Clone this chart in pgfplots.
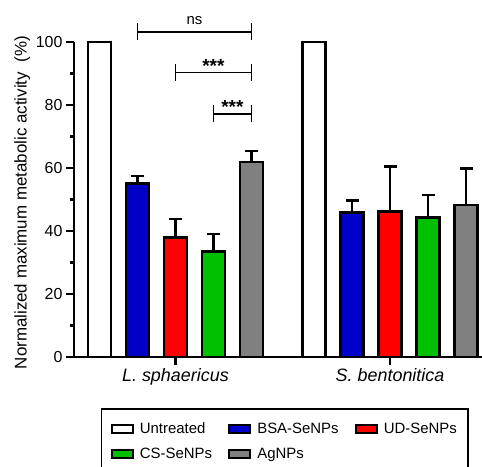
\documentclass[border=0pt]{standalone}
\usepackage{pgfplots}
\pgfplotsset{compat=1.18}
\usepackage{fontspec}
\setmainfont{Liberation Sans}
\definecolor{cblue}{RGB}{0,0,200}
\definecolor{cred}{RGB}{255,0,0}
\definecolor{cgreen}{RGB}{0,192,0}
\definecolor{cgray}{RGB}{128,128,128}
\pgfplotsset{
  mybar/.style={ybar, bar width=23bp, bar shift=0pt, draw=black, line width=2.6bp, fill=#1,
    error bars/.cd, y dir=plus, y explicit,
    error bar style={line width=2.6bp, black},
    error mark options={rotate=90, mark size=6.5bp, line width=2.6bp, black}},
}
\begin{document}
\begin{tikzpicture}
\begin{axis}[
  scale only axis, width=408bp, height=315bp,
  xmin=-0.67, xmax=10.07, ymin=0, ymax=100,
  axis x line*=bottom, axis y line*=left,
  axis line style={line width=2.4bp},
  every tick/.style={black, line width=2.2bp},
  tick align=outside,
  major tick length=8bp, minor tick length=4bp,
  ytick={0,20,...,100}, minor ytick={10,30,50,70,90},
  xtick={2,7.65}, xticklabels={\textit{L. sphaericus}, \textit{S. bentonitica}},
  xticklabel style={font=\fontsize{18}{21}\selectfont},
  yticklabel style={font=\fontsize{16}{19}\selectfont},
  /pgf/number format/assume math mode=true,
  ylabel={Normalized maximum metabolic activity\ \ (\%)},
  ylabel style={font=\fontsize{17}{20}\selectfont, at={(axis description cs:-0.127,0.49)}, anchor=center},
  clip=false,
  legend columns=3,
  legend cell align=left,
  legend image code/.code={\draw[#1, draw=black, line width=2.2bp] (0bp,-4bp) rectangle (21bp,4bp);},
  legend style={at={(axis description cs:0.066,-0.162)}, anchor=north west, draw=black, line width=1.5bp,
    font=\fontsize{15}{18}\selectfont, inner xsep=9bp, inner ysep=12bp, row sep=9bp,
    /tikz/every odd column/.append style={column sep=4bp},
    /tikz/every even column/.append style={column sep=14bp}},
]
\addplot[mybar=white] coordinates {(0,100) +- (0,0) (5.65,100) +- (0,0)};
\addplot[mybar=cblue] coordinates {(1,55.1) +- (0,2.4) (6.65,45.8) +- (0,3.8)};
\addplot[mybar=cred] coordinates {(2,38.0) +- (0,5.8) (7.65,46.1) +- (0,14.4)};
\addplot[mybar=cgreen] coordinates {(3,33.4) +- (0,5.6) (8.65,44.2) +- (0,7.2)};
\addplot[mybar=cgray] coordinates {(4,61.9) +- (0,3.5) (9.65,48.2) +- (0,11.6)};
\legend{Untreated, BSA-SeNPs, UD-SeNPs, CS-SeNPs, AgNPs}
\draw[line width=1.5bp] (axis cs:1,103.2) -- (axis cs:4,103.2)
  (axis cs:1,100.5) -- (axis cs:1,105.9) (axis cs:4,100.5) -- (axis cs:4,105.9);
\draw[line width=1.5bp] (axis cs:2,90.3) -- (axis cs:4,90.3)
  (axis cs:2,87.6) -- (axis cs:2,93.0) (axis cs:4,87.6) -- (axis cs:4,93.0);
\draw[line width=1.5bp] (axis cs:3,77.2) -- (axis cs:4,77.2)
  (axis cs:3,74.5) -- (axis cs:3,79.9) (axis cs:4,74.5) -- (axis cs:4,79.9);
\node[anchor=base, font=\fontsize{15}{18}\selectfont] at (axis cs:2.5,105.7) {ns};
\node[anchor=base, font=\fontsize{19}{22}\selectfont\bfseries] at (axis cs:3,90.3) {***};
\node[anchor=base, font=\fontsize{19}{22}\selectfont\bfseries] at (axis cs:3.5,77.2) {***};
\end{axis}
\pgfresetboundingbox
\path[use as bounding box] (-74bp,-110bp) rectangle (408bp,357bp);
\end{tikzpicture}
\end{document}
